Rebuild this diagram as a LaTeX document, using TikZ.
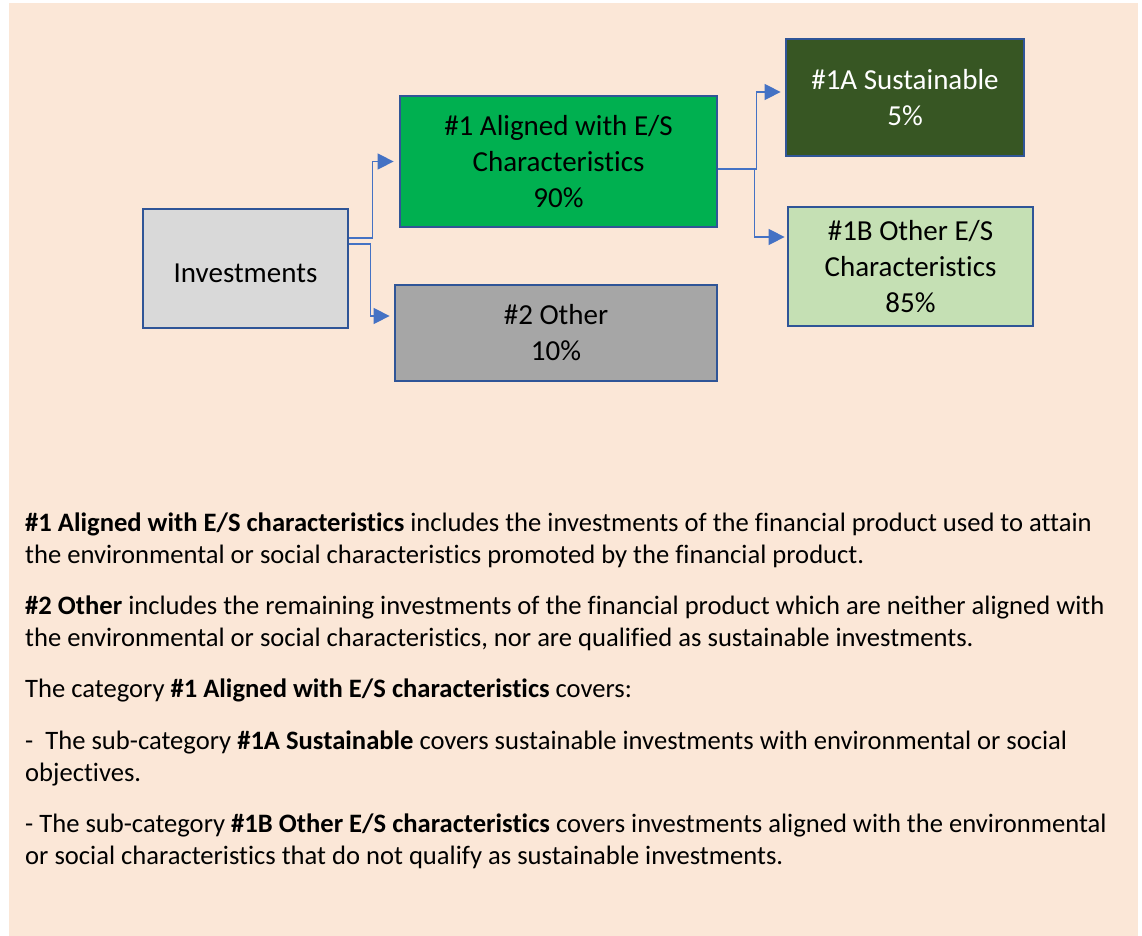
\documentclass[tikz,border=0pt]{standalone}
\usepackage{fontspec}
\setmainfont{Carlito}[Ligatures=NoCommon]
\usetikzlibrary{arrows.meta}
\definecolor{bgc}{HTML}{FBE7D7}
\definecolor{bordc}{HTML}{2F5597}
\definecolor{linec}{HTML}{4472C4}
\definecolor{invc}{HTML}{D9D9D9}
\definecolor{alc}{HTML}{00B050}
\definecolor{othc}{HTML}{A6A6A6}
\definecolor{susc}{HTML}{375623}
\definecolor{esc}{HTML}{C5E0B4}
\tikzset{
  box/.style={draw=bordc, line width=2.8pt, align=center, inner sep=0pt,
    font=\fontsize{29}{36}\selectfont},
  conn/.style={draw=linec, line width=1.5pt, -{Triangle[length=16pt,width=16pt]}},
  body/.style={anchor=base west, inner sep=0pt, font=\fontsize{26.6}{32}\selectfont}
}
\begin{document}
\begin{tikzpicture}[x=1pt,y=-1pt]
\useasboundingbox (0,0) rectangle (1142,936);
\fill[bgc] (9,3) rectangle (1138,936);
\node[box, fill=invc, minimum width=205pt, minimum height=119pt] (inv) at (245.5,268.5) {\raisebox{-4.5pt}[\height][\depth]{Investments}};
\node[box, fill=alc, minimum width=317pt, minimum height=131pt] (a1) at (558.5,161.5) {\#1 Aligned with E/S\\Characteristics\\90\%};
\node[box, fill=othc, minimum width=322pt, minimum height=96pt] (o2) at (556,333) {\#2 Other\\10\%};
\node[box, fill=susc, text=white, minimum width=238pt, minimum height=117pt] (s1a) at (905,97.5) {\#1A Sustainable\\5\%};
\node[box, fill=esc, minimum width=245pt, minimum height=119pt] (o1b) at (910.5,266.5) {\#1B Other E/S\\Characteristics\\85\%};
\draw[conn] ([yshift=30.5pt]inv.east) -- ++(23,0) |- ([xshift=-5pt]a1.west);
\draw[conn] ([yshift=24.5pt]inv.east) -- ++(21,0) |- ([xshift=-4pt,yshift=17pt]o2.west);
\draw[conn] ([yshift=-7.5pt]a1.east) -- ++(38,0) |- ([xshift=-4pt,yshift=5.5pt]s1a.west);
\draw[conn] ([yshift=-8pt]a1.east) -- ++(36,0) |- ([xshift=-2pt,yshift=29.5pt]o1b.west);
\node[body] (l1) at (25,531) {\textbf{\#1 Aligned with E/S characteristics} includes the investments of the financial product used to attain};
\node[body] (l2) at (25,563) {the environmental or social characteristics promoted by the financial product.};
\node[body] (l3) at (25,614) {\textbf{\#2 Other} includes the remaining investments of the financial product which are neither aligned with};
\node[body] (l4) at (25,646) {the environmental or social characteristics, nor are qualified as sustainable investments.};
\node[body] (l5) at (25,697) {The category \textbf{\#1 Aligned with E/S characteristics} covers:};
\node[body] (l6) at (25,749) {-\ \ The sub-category \textbf{\#1A Sustainable} covers sustainable investments with environmental or social};
\node[body] (l7) at (25,781) {objectives.};
\node[body] (l8) at (25,832) {- The sub-category \textbf{\#1B Other E/S characteristics} covers investments aligned with the environmental};
\node[body] (l9) at (25,864) {or social characteristics that do not qualify as sustainable investments.};
\end{tikzpicture}
\end{document}
